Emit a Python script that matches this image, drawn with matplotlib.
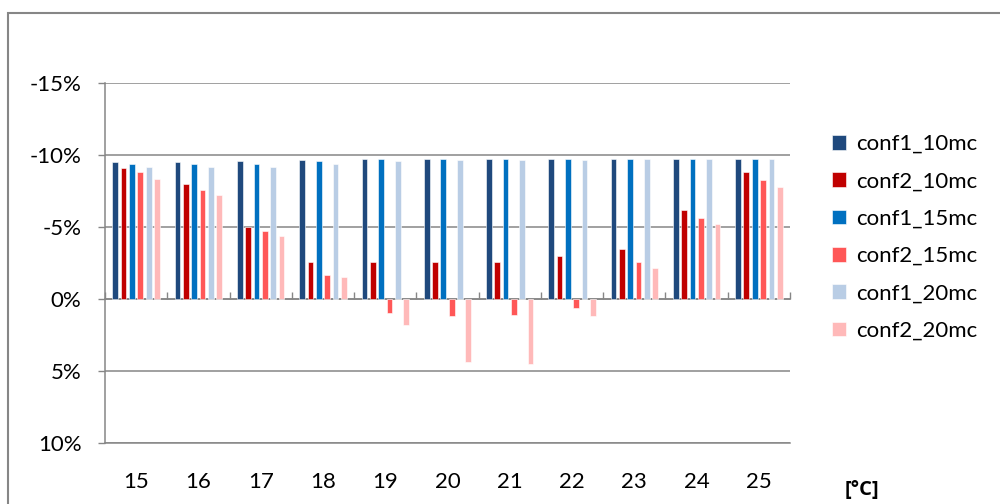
import matplotlib
matplotlib.use("Agg")
import matplotlib.pyplot as plt
from matplotlib.patches import Rectangle
import numpy as np

plt.rcParams['font.family'] = ['Lato', 'DejaVu Sans']

categories = ["15", "16", "17", "18", "19", "20", "21", "22", "23", "24", "25"]
series_names = ["conf1_10mc", "conf2_10mc", "conf1_15mc", "conf2_15mc", "conf1_20mc", "conf2_20mc"]

conf1_10mc = [-9.5, -9.5, -9.55, -9.65, -9.75, -9.75, -9.75, -9.75, -9.75, -9.75, -9.75]
conf2_10mc = [-9.1, -8.0, -5.0, -2.55, -2.55, -2.55, -2.6, -3.0, -3.5, -6.15, -8.8]
conf1_15mc = [-9.4, -9.35, -9.4, -9.55, -9.7, -9.7, -9.7, -9.7, -9.75, -9.75, -9.75]
conf2_15mc = [-8.8, -7.6, -4.7, -1.65, 0.95, 1.15, 1.1, 0.65, -2.55, -5.65, -8.25]
conf1_20mc = [-9.2, -9.2, -9.2, -9.4, -9.6, -9.65, -9.65, -9.65, -9.7, -9.7, -9.7]
conf2_20mc = [-8.3, -7.25, -4.4, -1.5, 1.8, 4.4, 4.5, 1.2, -2.15, -5.2, -7.75]

series = [conf1_10mc, conf2_10mc, conf1_15mc, conf2_15mc, conf1_20mc, conf2_20mc]
colors = ["#1F497D", "#C00000", "#0070C0", "#FF5757", "#B9CDE5", "#FFB9B9"]

yticks = [-15, -10, -5, 0, 5, 10]
ytick_labels = ["-15%", "-10%", "-5%", "0%", "5%", "10%"]

grid_color = "#868686"
fs = 16

fig = plt.figure(figsize=(10, 5.04), dpi=100)
ax = fig.add_axes([0.105, 1 - 443 / 504, 0.685, (443 - 83) / 504])

x = np.arange(len(categories))
slot = 0.134
width = 0.092
for i, (vals, name, col) in enumerate(zip(series, series_names, colors)):
    ax.bar(x + (i - 2.5) * slot, vals, width=width, color=col, label=name,
           edgecolor="white", linewidth=0.4, zorder=3)

ax.set_xlim(-0.5, len(categories) - 0.5)
ax.set_ylim(10, -15)
ax.set_yticks(yticks)
ax.set_yticklabels(ytick_labels, fontsize=fs)
ax.yaxis.grid(True, color=grid_color, linewidth=1.1, zorder=0)
ax.set_axisbelow(True)

ax.set_xticks(x)
ax.set_xticklabels(categories, fontsize=fs)
ax.tick_params(axis='x', length=0, pad=21)
ax.tick_params(axis='y', length=5, width=1, color=grid_color, pad=12)

for s in ["top", "right"]:
    ax.spines[s].set_visible(False)
ax.spines["left"].set_color(grid_color)
ax.spines["left"].set_linewidth(1.1)
ax.spines["bottom"].set_color(grid_color)
ax.spines["bottom"].set_linewidth(1.1)

# category axis crossing at 0%
sec = ax.secondary_xaxis(10 / 25)
sec.set_xticks(np.arange(-0.5, len(categories), 1.0))
sec.set_xticklabels([])
sec.tick_params(direction='in', length=5, width=1, color=grid_color)
sec.spines["bottom"].set_color(grid_color)
sec.spines["bottom"].set_linewidth(1.1)

fig.legend(loc="center left", bbox_to_anchor=(0.832, 1 - 237.5 / 504),
           frameon=False, fontsize=fs, handlelength=0.65, handleheight=0.65,
           handletextpad=0.45, labelspacing=0.78, borderpad=0, borderaxespad=0)

fig.text(0.862, 1 - 490 / 504, "[°C]", fontsize=14.5, fontweight="bold",
         family=["Open Sans", "DejaVu Sans"], ha="center", va="center")

fig.patches.append(Rectangle((0.0083, -0.2), 1.5, 1.2 + (1 - 12.7 / 504) - 1,
                             transform=fig.transFigure, fill=False,
                             edgecolor=grid_color, linewidth=1.5))

fig.savefig("out.png", dpi=100)
